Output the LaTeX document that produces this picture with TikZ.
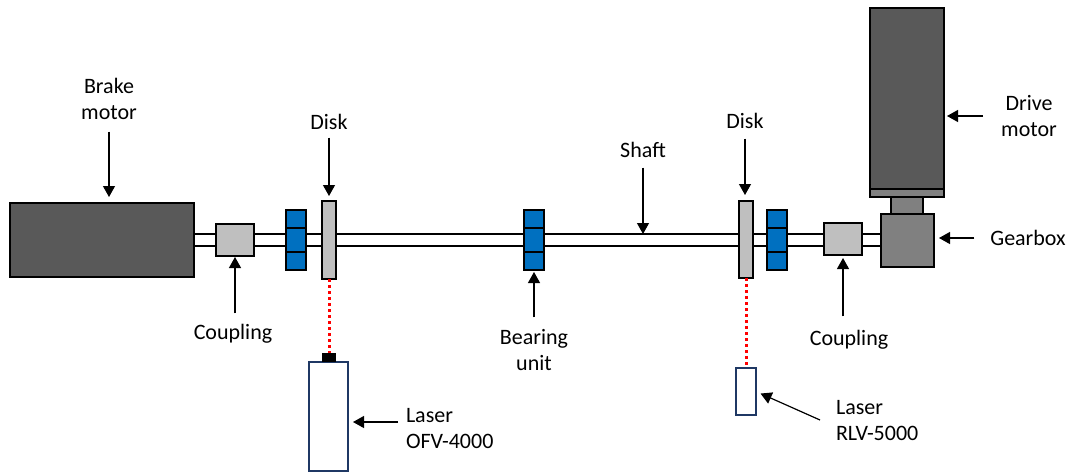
\documentclass[tikz,border=0pt]{standalone}
\usepackage{fontspec}
\setmainfont{Carlito}
\usetikzlibrary{arrows.meta}
\definecolor{bearingblue}{HTML}{0070C0}
\definecolor{lasernavy}{HTML}{1F3864}

\begin{document}
\begin{tikzpicture}[x = 1pt, y = -1pt, line width = 2pt,
    part/.style = {shape = rectangle, draw, inner sep = 0pt, outer sep = 0pt},
    bearing/.style = {part, fill = bearingblue, minimum width = 20pt},
    laser/.style = {part, draw = lasernavy, fill = white},
    label/.style = {inner sep = 0pt, align = center, font = \fontsize{22}{26}\selectfont},
    pointer/.style = {line width = 1.2pt, -{Triangle[length = 11pt, width = 12pt]}},
    beam/.style = {red, line width = 3pt, dash pattern = on 3pt off 3pt}]
    \useasboundingbox (0,0) rectangle (1070,472);
    \coordinate (SA) at (194,234);
    \coordinate (SB) at (194,246);
    \coordinate (SC) at (881,234);
    \coordinate (SD) at (881,246);
    \coordinate (ST) at (643,234);
    \coordinate (PL) at (398,422);
    \coordinate (PR) at (820,420);
    \draw (SA) -- (SC);
    \draw (SB) -- (SD);
    % motors and gearbox
    \node[part, fill = black!65, minimum width = 184pt, minimum height = 74pt] (BM) at (102,240) {};
    \node[part, fill = black!65, minimum width = 74pt, minimum height = 181pt] (DM) at (907,98.5) {};
    \node[part, fill = black!50, minimum width = 74pt, minimum height = 8pt] (FL) at (907,193) {};
    \node[part, fill = black!50, minimum width = 32pt, minimum height = 17pt] (NK) at (907,205.5) {};
    \node[part, fill = black!50, minimum width = 53pt, minimum height = 53pt] (GB) at (907.5,240.5) {};
    % couplings and disks
    \node[part, fill = black!25, minimum width = 38pt, minimum height = 32pt] (C1) at (235,240) {};
    \node[part, fill = black!25, minimum width = 38pt, minimum height = 32pt] (C2) at (843,239) {};
    \node[part, fill = black!25, minimum width = 14pt, minimum height = 78pt] (D1) at (329,240) {};
    \node[part, fill = black!25, minimum width = 14pt, minimum height = 77pt] (D2) at (746,239.5) {};
    % bearings
    \node[bearing, minimum height = 18pt] (B1a) at (296,219) {};
    \node[bearing, minimum height = 18pt] (B1c) at (296,261) {};
    \node[bearing, minimum height = 24pt] (B1b) at (296,240) {};
    \node[bearing, minimum height = 18pt] (B2a) at (534,219) {};
    \node[bearing, minimum height = 18pt] (B2c) at (534,261) {};
    \node[bearing, minimum height = 24pt] (B2b) at (534,240) {};
    \node[bearing, minimum height = 18pt] (B3a) at (777,219) {};
    \node[bearing, minimum height = 18pt] (B3c) at (777,261) {};
    \node[bearing, minimum height = 24pt] (B3b) at (777,240) {};
    % lasers
    \node[laser, minimum width = 39pt, minimum height = 109pt] (L1) at (328.5,416.5) {};
    \node[part, fill = black, draw = none, minimum width = 14pt, minimum height = 9pt] (LH) at (329,357.5) {};
    \node[laser, minimum width = 20pt, minimum height = 47pt] (L2) at (746,391.5) {};
    \draw[beam] (D1.south) -- (LH.north);
    \draw[beam, shorten > = 3pt] (D2.south) -- (L2.north);
    % labels
    \node[label] (TB) at (109,99) {Brake\\motor};
    \node[label] (TD) at (329,122) {Disk};
    \node[label] (TS) at (643,150) {Shaft};
    \node[label] (TE) at (745,121) {Disk};
    \node[label] (TM) at (1029,116) {Drive\\motor};
    \node[label] (TG) at (1028,238) {Gearbox};
    \node[label] (TC) at (233,334) {Coupling};
    \node[label] (TU) at (534,350) {Bearing\\unit};
    \node[label] (TK) at (849,340) {Coupling};
    \node[label, align = left, anchor = west] (TL) at (405,429) {Laser\\OFV-4000};
    \node[label, align = left, anchor = west] (TR) at (835,421) {Laser\\RLV-5000};
    % pointers
    \draw[pointer, shorten < = 11pt, shorten > = 6pt] (TB.south) -- (TB.south |- BM.north);
    \draw[pointer, shorten < = 7pt, shorten > = 5pt] (TD.south) -- (D1.north);
    \draw[pointer, shorten < = 9pt] (TS.south) -- (ST);
    \draw[pointer, shorten < = 9pt, shorten > = 6pt] (TE.south) -- (TE.south |- D2.north);
    \draw[pointer, shorten < = 17pt, shorten > = 3pt] (TM.west) -- (TM.west -| DM.east);
    \draw[pointer, shorten < = 15pt, shorten > = 5pt] (TG.west) -- (TG.west -| GB.east);
    \draw[pointer, shorten < = 10pt, shorten > = 1pt] (C1.south |- TC.north) -- (C1.south);
    \draw[pointer, shorten < = 11pt, shorten > = 2pt] (TU.north) -- (TU.north |- B2c.south);
    \draw[pointer, shorten < = 13pt, shorten > = 3pt] (C2.south |- TK.north) -- (C2.south);
    \draw[pointer, shorten > = 5pt] (PL) -- (PL -| L1.east);
    \draw[pointer, shorten > = 5pt] (PR) -- (L2.east);
\end{tikzpicture}
\end{document}
